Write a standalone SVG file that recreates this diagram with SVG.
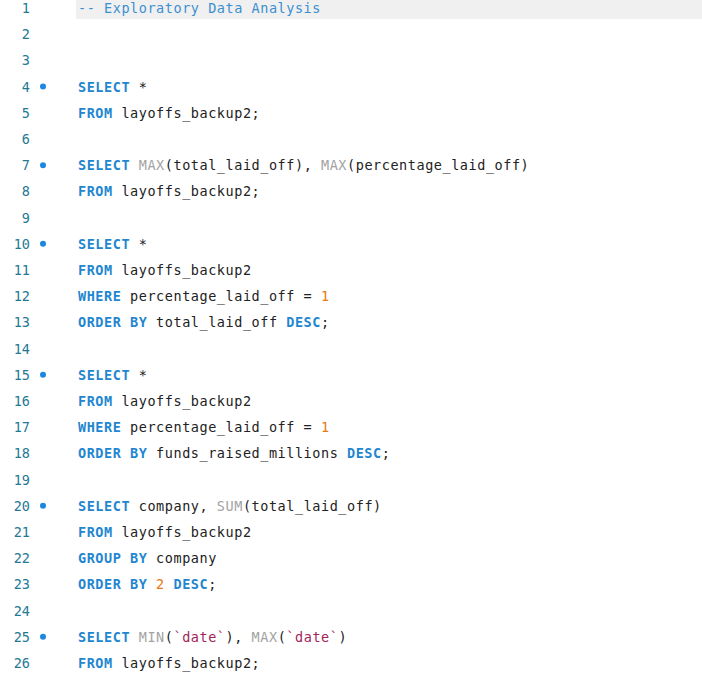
<svg xmlns="http://www.w3.org/2000/svg" width="702" height="675" viewBox="0 0 702 675">
<style>
text{font-family:"DejaVu Sans Mono","Liberation Mono",monospace;font-size:13.5px;letter-spacing:0.55px;white-space:pre}
.n{fill:#237893;text-anchor:end;letter-spacing:0}
.c{fill:#3b8fd0}
.t{fill:#222}
.k{fill:#1f86d0;font-weight:bold}
.f{fill:#a3a3a3}
.s{fill:#a3235a}
.o{fill:#e8780f}
.d{fill:#1c86e0}
</style>
<rect width="702" height="675" fill="#fff"/>
<rect x="76" y="0" width="626" height="19" fill="#f0f0f0"/>
<g id="gutter">
<text class="n" x="30" y="13">1</text>
<text class="n" x="30" y="39.2">2</text>
<text class="n" x="30" y="65.4">3</text>
<text class="n" x="30" y="91.6">4</text>
<text class="n" x="30" y="117.8">5</text>
<text class="n" x="30" y="144">6</text>
<text class="n" x="30" y="170.2">7</text>
<text class="n" x="30" y="196.4">8</text>
<text class="n" x="30" y="222.6">9</text>
<text class="n" x="30" y="248.8">10</text>
<text class="n" x="30" y="275">11</text>
<text class="n" x="30" y="301.2">12</text>
<text class="n" x="30" y="327.4">13</text>
<text class="n" x="30" y="353.6">14</text>
<text class="n" x="30" y="379.8">15</text>
<text class="n" x="30" y="406">16</text>
<text class="n" x="30" y="432.2">17</text>
<text class="n" x="30" y="458.4">18</text>
<text class="n" x="30" y="484.6">19</text>
<text class="n" x="30" y="510.8">20</text>
<text class="n" x="30" y="537">21</text>
<text class="n" x="30" y="563.2">22</text>
<text class="n" x="30" y="589.4">23</text>
<text class="n" x="30" y="615.6">24</text>
<text class="n" x="30" y="641.8">25</text>
<text class="n" x="30" y="668">26</text>
<circle class="d" cx="43" cy="86.6" r="3"/>
<circle class="d" cx="43" cy="165.2" r="3"/>
<circle class="d" cx="43" cy="243.8" r="3"/>
<circle class="d" cx="43" cy="374.8" r="3"/>
<circle class="d" cx="43" cy="505.8" r="3"/>
<circle class="d" cx="43" cy="636.8" r="3"/>
</g>
<g id="code">
<text x="78" y="13" class="c">-- Exploratory Data Analysis</text>
<text x="78" y="91.6"><tspan class="k">SELECT</tspan><tspan class="t"> *</tspan></text>
<text x="78" y="117.8"><tspan class="k">FROM</tspan><tspan class="t"> layoffs_backup2;</tspan></text>
<text x="78" y="170.2"><tspan class="k">SELECT</tspan><tspan class="f"> MAX</tspan><tspan class="t">(total_laid_off), </tspan><tspan class="f">MAX</tspan><tspan class="t">(percentage_laid_off)</tspan></text>
<text x="78" y="196.4"><tspan class="k">FROM</tspan><tspan class="t"> layoffs_backup2;</tspan></text>
<text x="78" y="248.8"><tspan class="k">SELECT</tspan><tspan class="t"> *</tspan></text>
<text x="78" y="275"><tspan class="k">FROM</tspan><tspan class="t"> layoffs_backup2</tspan></text>
<text x="78" y="301.2"><tspan class="k">WHERE</tspan><tspan class="t"> percentage_laid_off = </tspan><tspan class="o">1</tspan></text>
<text x="78" y="327.4"><tspan class="k">ORDER BY</tspan><tspan class="t"> total_laid_off </tspan><tspan class="k">DESC</tspan><tspan class="t">;</tspan></text>
<text x="78" y="379.8"><tspan class="k">SELECT</tspan><tspan class="t"> *</tspan></text>
<text x="78" y="406"><tspan class="k">FROM</tspan><tspan class="t"> layoffs_backup2</tspan></text>
<text x="78" y="432.2"><tspan class="k">WHERE</tspan><tspan class="t"> percentage_laid_off = </tspan><tspan class="o">1</tspan></text>
<text x="78" y="458.4"><tspan class="k">ORDER BY</tspan><tspan class="t"> funds_raised_millions </tspan><tspan class="k">DESC</tspan><tspan class="t">;</tspan></text>
<text x="78" y="510.8"><tspan class="k">SELECT</tspan><tspan class="t"> company, </tspan><tspan class="f">SUM</tspan><tspan class="t">(total_laid_off)</tspan></text>
<text x="78" y="537"><tspan class="k">FROM</tspan><tspan class="t"> layoffs_backup2</tspan></text>
<text x="78" y="563.2"><tspan class="k">GROUP BY</tspan><tspan class="t"> company</tspan></text>
<text x="78" y="589.4"><tspan class="k">ORDER BY</tspan><tspan class="o"> 2</tspan><tspan class="k"> DESC</tspan><tspan class="t">;</tspan></text>
<text x="78" y="641.8"><tspan class="k">SELECT</tspan><tspan class="f"> MIN</tspan><tspan class="t">(</tspan><tspan class="s">`date`</tspan><tspan class="t">), </tspan><tspan class="f">MAX</tspan><tspan class="t">(</tspan><tspan class="s">`date`</tspan><tspan class="t">)</tspan></text>
<text x="78" y="668"><tspan class="k">FROM</tspan><tspan class="t"> layoffs_backup2;</tspan></text>
</g>
</svg>
